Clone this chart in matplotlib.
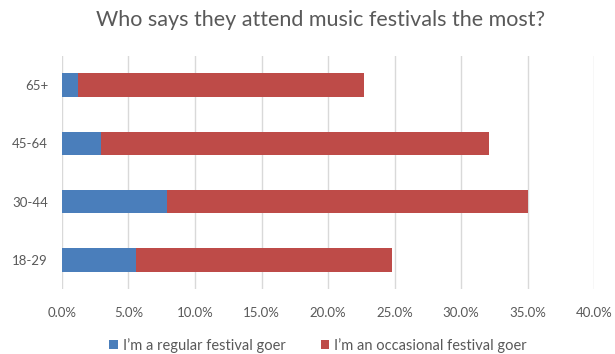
import matplotlib
matplotlib.use("Agg")
import matplotlib.pyplot as plt
from matplotlib.ticker import FuncFormatter, MultipleLocator

categories = ["18-29", "30-44", "45-64", "65+"]
regular = [5.6, 7.9, 2.9, 1.2]
total = [24.8, 35.0, 32.1, 22.7]
occasional = [t - r for t, r in zip(total, regular)]
series_names = ["I\u2019m a regular festival goer", "I\u2019m an occasional festival goer"]
title = "Who says they attend music festivals the most?"

plt.rcParams['font.family'] = ['Lato', 'DejaVu Sans']
text_color = "#595959"
blue = "#4a7ebb"
red = "#be4b48"

fig = plt.figure(figsize=(6.15, 3.54), dpi=100)
ax = fig.add_axes([0.1008, 0.1836, 0.8651, 0.6582])

y = list(range(len(categories)))
ax.barh(y, regular, height=0.4, color=blue, label=series_names[0], zorder=3)
ax.barh(y, occasional, left=regular, height=0.4, color=red, label=series_names[1], zorder=3)

ax.set_xlim(0, 40)
ax.set_ylim(-0.5, len(categories) - 0.5)
ax.xaxis.set_major_locator(MultipleLocator(5))
ax.xaxis.set_major_formatter(FuncFormatter(lambda v, p: f"{v:.1f}%"))
ax.set_yticks(y)
ax.set_yticklabels(categories)
ax.grid(axis='x', color="#d9d9d9", linewidth=1, zorder=0)
for s in ax.spines.values():
    s.set_visible(False)
ax.tick_params(length=0, colors=text_color, labelsize=9.5)
ax.tick_params(axis='x', pad=13)
ax.tick_params(axis='y', pad=10)

fig.text(0.522, 0.943, title, ha='center', va='center', fontsize=15.5, color=text_color)

leg = fig.legend(loc='center', bbox_to_anchor=(0.517, 0.025), ncol=2, frameon=False,
                 fontsize=10.5, handlelength=0.6, handleheight=0.6, handletextpad=0.35,
                 columnspacing=2.4)
for t in leg.get_texts():
    t.set_color(text_color)

fig.savefig("out.png", dpi=100, facecolor="white")
